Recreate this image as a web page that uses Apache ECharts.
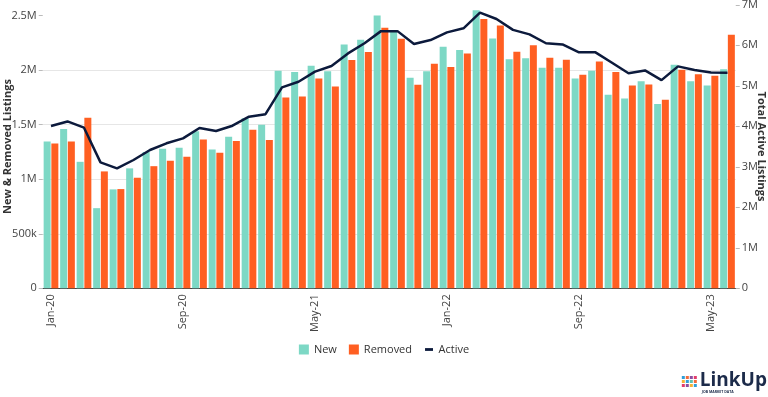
<!DOCTYPE html>
<html>
<head>
<meta charset="utf-8">
<script src="https://cdn.jsdelivr.net/npm/echarts@6/dist/echarts.min.js"></script>
<style>
  html, body { margin: 0; padding: 0; background: #fff; }
  #chart { width: 768px; height: 397px; }
</style>
</head>
<body>
<div id="chart"></div>
<script>
var months = ['Jan-20','Feb-20','Mar-20','Apr-20','May-20','Jun-20','Jul-20','Aug-20','Sep-20','Oct-20','Nov-20','Dec-20',
  'Jan-21','Feb-21','Mar-21','Apr-21','May-21','Jun-21','Jul-21','Aug-21','Sep-21','Oct-21','Nov-21','Dec-21',
  'Jan-22','Feb-22','Mar-22','Apr-22','May-22','Jun-22','Jul-22','Aug-22','Sep-22','Oct-22','Nov-22','Dec-22',
  'Jan-23','Feb-23','Mar-23','Apr-23','May-23','Jun-23'];

// new listings (left axis)
var newListings = [1347000,1460000,1160000,735000,907000,1100000,1250000,1280000,1289000,1440000,1274000,1390000,
  1560000,1500000,1995000,1983000,2040000,1990000,2237000,2280000,2503000,2365000,1930000,1990000,
  2216000,2185000,2550000,2290000,2100000,2110000,2023000,2023000,1925000,1995000,1775000,1740000,
  1898000,1690000,2050000,1898000,1861000,2008000];

// removed listings (left axis)
var removedListings = [1329000,1347000,1564000,1072000,910000,1014000,1120000,1170000,1206000,1365000,1243000,1350000,
  1454000,1360000,1750000,1760000,1925000,1850000,2093000,2167000,2390000,2289000,1867000,2060000,
  2030000,2154000,2470000,2410000,2170000,2230000,2115000,2096000,1959000,2080000,1983000,1860000,
  1870000,1730000,2005000,1962000,1950000,2326000];

// total active listings (right axis)
var activeListings = [4007000,4120000,3966000,3110000,2962000,3168000,3415000,3580000,3703000,3958000,3884000,4015000,
  4238000,4300000,4962000,5100000,5350000,5490000,5800000,6050000,6350000,6350000,6030000,6130000,
  6320000,6420000,6805000,6650000,6380000,6270000,6050000,6020000,5826000,5826000,5570000,5310000,
  5380000,5140000,5480000,5390000,5330000,5320000];

var leftTicks = [0, 500000, 1000000, 1500000, 2000000, 2500000];

var colors = ['#7dd8c5', '#ff5f22', '#0c1a3c'];
var font = '"Open Sans", "Noto Sans", sans-serif';

function fmtM(v) {
  if (v === 0) return '0';
  if (v < 1000000) return (v / 1000) + 'k';
  return (v / 1000000) + 'M';
}

var chart = echarts.init(document.getElementById('chart'));

var option = {
  color: colors,
  animation: false,
  textStyle: { fontFamily: font },
  grid: { left: 42.75, right: 32.25, top: 4.8, bottom: 108.7, outerBoundsMode: 'none' },
  legend: {
    bottom: 37,
    left: 'center',
    itemWidth: 10,
    itemHeight: 10,
    itemGap: 12,
    textStyle: { fontSize: 11, color: '#333', fontFamily: font },
    data: [
      { name: 'New', icon: 'rect' },
      { name: 'Removed', icon: 'rect' },
      { name: 'Active', icon: 'path://M0,0M0,10M1,3.6H9V6.4H1Z', itemStyle: { color: colors[2] } }
    ]
  },
  xAxis: {
    type: 'category',
    data: months,
    axisLine: { lineStyle: { color: '#444', width: 1 } },
    axisTick: { alignWithLabel: true, interval: 7, length: 4, lineStyle: { color: '#444' } },
    axisLabel: { interval: 7, rotate: 90, fontSize: 11, color: '#444', margin: 6, fontFamily: font }
  },
  yAxis: [
    {
      type: 'value',
      min: 0,
      max: 2600000,
      interval: 500000,
      name: 'New & Removed Listings',
      nameLocation: 'middle',
      nameGap: 29,
      nameMoveOverlap: false,
      nameTextStyle: { fontSize: 11, fontWeight: 'bold', color: '#333', fontFamily: font },
      axisLine: { show: false },
      axisTick: { show: true, length: 4, customValues: leftTicks, lineStyle: { color: '#bbb' } },
      axisLabel: { customValues: leftTicks, formatter: fmtM, fontSize: 11, color: '#444', margin: 6, fontFamily: font },
      splitLine: { show: true, showMaxLine: false, lineStyle: { color: '#e6e6e6' } }
    },
    {
      type: 'value',
      min: 0,
      max: 7000000,
      interval: 1000000,
      position: 'right',
      name: 'Total Active Listings',
      nameLocation: 'middle',
      nameGap: 20,
      nameRotate: -90,
      nameMoveOverlap: false,
      nameTextStyle: { fontSize: 11, fontWeight: 'bold', color: '#333', fontFamily: font },
      axisLine: { show: false },
      axisTick: { show: true, length: 4, lineStyle: { color: '#bbb' } },
      axisLabel: { formatter: fmtM, fontSize: 11, color: '#444', margin: 6, fontFamily: font },
      splitLine: { show: false }
    }
  ],
  series: [
    {
      name: 'New',
      type: 'bar',
      yAxisIndex: 0,
      barWidth: 7,
      barGap: '10%',
      data: newListings
    },
    {
      name: 'Removed',
      type: 'bar',
      yAxisIndex: 0,
      barWidth: 7,
      barGap: '10%',
      data: removedListings
    },
    {
      name: 'Active',
      type: 'line',
      yAxisIndex: 1,
      symbol: 'none',
      z: 5,
      lineStyle: { width: 2.5, color: colors[2] },
      data: activeListings
    }
  ],
  graphic: [
    {
      type: 'group',
      right: 1,
      bottom: 3,
      children: [
        { type: 'rect', shape: { x: 0, y: 2, width: 3, height: 3 }, style: { fill: '#2e9fd8' } },
        { type: 'rect', shape: { x: 4, y: 2, width: 3, height: 3 }, style: { fill: '#f26b3a' } },
        { type: 'rect', shape: { x: 8, y: 2, width: 3, height: 3 }, style: { fill: '#8a4fa0' } },
        { type: 'rect', shape: { x: 12, y: 2, width: 3, height: 3 }, style: { fill: '#e23b6c' } },
        { type: 'rect', shape: { x: 0, y: 6, width: 3, height: 3 }, style: { fill: '#f5b335' } },
        { type: 'rect', shape: { x: 4, y: 6, width: 3, height: 3 }, style: { fill: '#2e9fd8' } },
        { type: 'rect', shape: { x: 8, y: 6, width: 3, height: 3 }, style: { fill: '#5cc2b0' } },
        { type: 'rect', shape: { x: 12, y: 6, width: 3, height: 3 }, style: { fill: '#f26b3a' } },
        { type: 'rect', shape: { x: 0, y: 10, width: 3, height: 3 }, style: { fill: '#e23b6c' } },
        { type: 'rect', shape: { x: 4, y: 10, width: 3, height: 3 }, style: { fill: '#8a4fa0' } },
        { type: 'rect', shape: { x: 8, y: 10, width: 3, height: 3 }, style: { fill: '#f5b335' } },
        { type: 'rect', shape: { x: 12, y: 10, width: 3, height: 3 }, style: { fill: '#2e9fd8' } },
        {
          type: 'text', x: 18, y: -3,
          style: { text: 'LinkUp', fontSize: 19, fontWeight: 'bold', fill: '#1c2b4a', fontFamily: font }
        },
        {
          type: 'text', x: 20, y: 16,
          style: { text: 'JOB MARKET DATA', fontSize: 3.5, fontWeight: 'bold', fill: '#1c2b4a', fontFamily: font }
        }
      ]
    }
  ]
};

chart.setOption(option);
</script>
</body>
</html>
